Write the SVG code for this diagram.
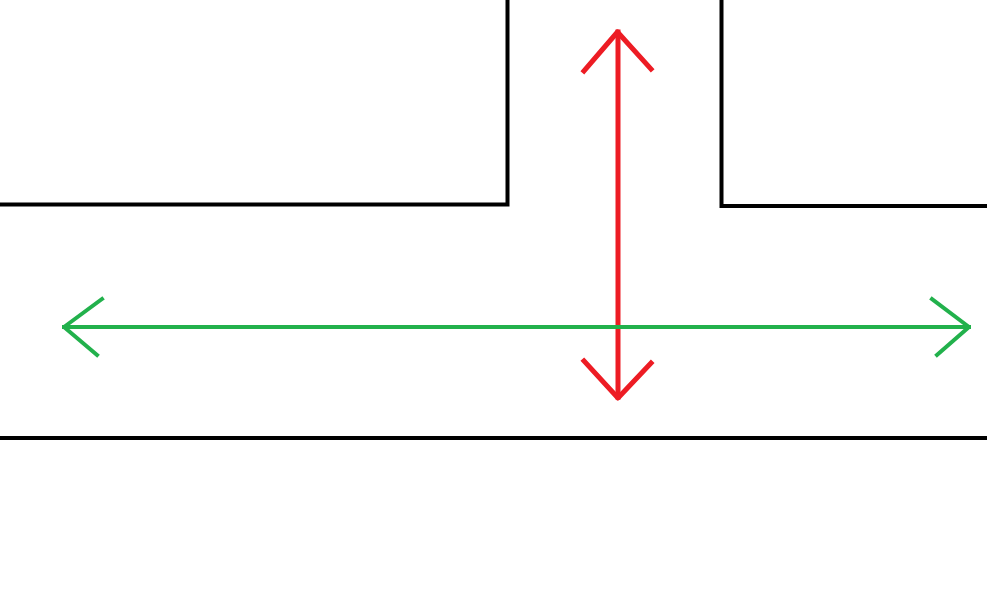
<svg xmlns="http://www.w3.org/2000/svg" width="987" height="604" viewBox="0 0 987 604">
<style>
.wall{fill:none;stroke:#000;stroke-width:4;stroke-linecap:butt;stroke-linejoin:miter}
.red{fill:none;stroke:#ED1C24;stroke-width:5;stroke-linecap:square;stroke-linejoin:round}
.green{fill:none;stroke:#22B14C;stroke-width:4;stroke-linecap:square;stroke-linejoin:round}
</style>
<rect width="987" height="604" fill="#fff"/>
<g id="walls">
<polyline class="wall" points="0,204.5 507.5,204.5 507.5,0"/>
<polyline class="wall" points="721.5,0 721.5,206 987,206"/>
<line class="wall" x1="0" y1="438" x2="987" y2="438"/>
</g>
<g id="connectors">
<g id="red-arrow">
<line class="red" x1="618" y1="32" x2="618" y2="397"/>
<polyline class="red" points="584,71 617.5,32 651,69"/>
<polyline class="red" points="584,361 618,398 651,363"/>
</g>
<g id="green-arrow">
<line class="green" x1="64" y1="327" x2="969" y2="327"/>
<polyline class="green" points="102,299 64,327 97,355"/>
<polyline class="green" points="932,299 969,327 937,355"/>
</g>
</g>
</svg>
